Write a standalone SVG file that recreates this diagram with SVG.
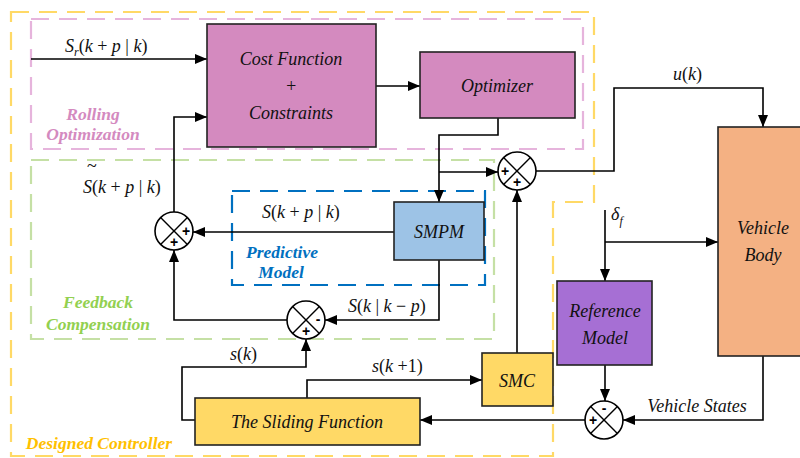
<svg xmlns="http://www.w3.org/2000/svg" width="800" height="458" viewBox="0 0 800 458" font-family="'Times New Roman', 'Liberation Serif', 'DejaVu Serif', serif">
  <defs>
    <marker id="arrow" viewBox="0 0 12 10" refX="12" refY="5" markerWidth="12" markerHeight="10" markerUnits="userSpaceOnUse" orient="auto">
      <path d="M0,0 L12,5 L0,10 Z" fill="#000"/>
    </marker>
    <g id="sumcircle">
      <circle cx="0" cy="0" r="19" fill="#fff" stroke="#000" stroke-width="1.6"/>
      <line x1="-13.4" y1="-13.4" x2="13.4" y2="13.4" stroke="#000" stroke-width="1.4"/>
      <line x1="-13.4" y1="13.4" x2="13.4" y2="-13.4" stroke="#000" stroke-width="1.4"/>
    </g>
  </defs>
  <style>
    .frame { fill: none; stroke-width: 2.2; stroke-dasharray: 18 10; }
    .box { stroke: #222; stroke-width: 1.6; }
    .wire { fill: none; stroke: #000; stroke-width: 1.6; }
    .arr { marker-end: url(#arrow); }
    .lbl { font-style: italic; font-size: 18px; fill: #111; text-anchor: middle; }
    .math { font-size: 18px; fill: #111; }
    .v { font-style: italic; }
    .grp { font-style: italic; font-weight: bold; font-size: 17.5px; text-anchor: middle; }
    .sign { font-weight: bold; font-size: 14px; fill: #000; text-anchor: middle; }
  </style>

  <rect width="800" height="458" fill="#fff"/>

  <!-- dashed frames -->
  <g id="frames">
    <path class="frame" stroke="#FFD966" d="M11,12 H594 V202 H553 V456 H11 Z"/>
    <rect class="frame" stroke="#E6B4DC" x="31" y="19" width="552" height="130"/>
    <rect class="frame" stroke="#C5E0A5" x="31" y="160" width="463" height="179"/>
    <rect class="frame" stroke="#0070C0" x="232" y="191" width="253" height="94" stroke-width="2.6"/>
    <text class="grp" fill="#D48ABF" x="93" y="120">Rolling</text>
    <text class="grp" fill="#D48ABF" x="93" y="140">Optimization</text>
    <text class="grp" fill="#92D050" x="98" y="308">Feedback</text>
    <text class="grp" fill="#92D050" x="98" y="330">Compensation</text>
    <text class="grp" fill="#0070C0" x="282" y="258">Predictive</text>
    <text class="grp" fill="#0070C0" x="281" y="278">Model</text>
    <text class="grp" fill="#FFC000" x="99" y="449">Designed Controller</text>
  </g>

  <!-- connectors -->
  <g id="connectors">
    <path class="wire arr" d="M31,59 H207"/>
    <path class="wire arr" d="M174,212 V117 H207"/>
    <path class="wire arr" d="M376,86 H420"/>
    <path class="wire arr" d="M498,118 V135 H439 V202"/>
    <path class="wire arr" d="M439,172 H498"/>
    <path class="wire arr" d="M536,171 H614 V88 H763 V127"/>
    <path class="wire arr" d="M394,232 H193"/>
    <path class="wire arr" d="M439,260 V320 H325"/>
    <path class="wire arr" d="M287,320 H174 V250"/>
    <path class="wire arr" d="M195,420 H182 V367 H306 V339"/>
    <path class="wire arr" d="M307,398 V380 H482"/>
    <path class="wire arr" d="M517,353 V190"/>
    <path class="wire arr" d="M605,210 V281"/>
    <path class="wire arr" d="M605,242 H718"/>
    <path class="wire arr" d="M605,365 V401"/>
    <path class="wire arr" d="M763,356 V420 H623"/>
    <path class="wire arr" d="M585,420 H420"/>

    <!-- signal labels -->
    <text class="math" x="65" y="52"><tspan class="v">S</tspan><tspan class="v" font-size="12" dy="4">r</tspan><tspan dy="-4">(</tspan><tspan class="v">k</tspan> + <tspan class="v">p</tspan> | <tspan class="v">k</tspan>)</text>
    <text class="math" x="83" y="193"><tspan class="v">S</tspan>(<tspan class="v">k</tspan> + <tspan class="v">p</tspan> | <tspan class="v">k</tspan>)</text>
    <text class="math" x="87" y="172" font-size="9">~</text>
    <text class="math" x="262" y="218"><tspan class="v">S</tspan>(<tspan class="v">k</tspan> + <tspan class="v">p</tspan> | <tspan class="v">k</tspan>)</text>
    <text class="math" x="348" y="312"><tspan class="v">S</tspan>(<tspan class="v">k</tspan> | <tspan class="v">k</tspan> − <tspan class="v">p</tspan>)</text>
    <text class="math" x="230" y="360"><tspan class="v">s</tspan>(<tspan class="v">k</tspan>)</text>
    <text class="math" x="372" y="372"><tspan class="v">s</tspan>(<tspan class="v">k</tspan> +1)</text>
    <text class="math" x="673" y="80"><tspan class="v">u</tspan>(<tspan class="v">k</tspan>)</text>
    <text class="math" x="611" y="220"><tspan class="v">δ</tspan><tspan class="v" font-size="12" dy="5">f</tspan></text>
    <text class="lbl" x="697" y="412">Vehicle States</text>
  </g>

  <!-- nodes -->
  <g id="cost-function">
    <rect class="box" x="207" y="24" width="169" height="123" fill="#D48ABF"/>
    <text class="lbl" x="291" y="65">Cost Function</text>
    <text class="lbl" x="291" y="92" font-style="normal">+</text>
    <text class="lbl" x="291" y="119">Constraints</text>
  </g>
  <g id="optimizer">
    <rect class="box" x="420" y="52" width="155" height="66" fill="#D48ABF"/>
    <text class="lbl" x="497" y="92">Optimizer</text>
  </g>
  <g id="smpm">
    <rect class="box" x="394" y="202" width="90" height="58" fill="#9DC3E6"/>
    <text class="lbl" x="439" y="238">SMPM</text>
  </g>
  <g id="vehicle-body">
    <rect class="box" x="718" y="127" width="90" height="229" fill="#F4B183"/>
    <text class="lbl" x="763" y="234">Vehicle</text>
    <text class="lbl" x="763" y="261">Body</text>
  </g>
  <g id="reference-model">
    <rect class="box" x="557" y="281" width="95" height="84" fill="#A66FD4"/>
    <text class="lbl" x="605" y="317">Reference</text>
    <text class="lbl" x="605" y="344">Model</text>
  </g>
  <g id="sliding-function">
    <rect class="box" x="195" y="398" width="225" height="47" fill="#FFD966"/>
    <text class="lbl" x="307" y="428">The Sliding Function</text>
  </g>
  <g id="smc">
    <rect class="box" x="482" y="353" width="71" height="53" fill="#FFD966"/>
    <text class="lbl" x="517" y="387">SMC</text>
  </g>

  <!-- summing junctions -->
  <g id="sum-control" font-family="'Liberation Sans', Arial, sans-serif">
    <use href="#sumcircle" x="517" y="171"/>
    <text class="sign" x="505" y="176">+</text>
    <text class="sign" x="517" y="187">+</text>
  </g>
  <g id="sum-prediction" font-family="'Liberation Sans', Arial, sans-serif">
    <use href="#sumcircle" x="174" y="231"/>
    <text class="sign" x="186" y="236">+</text>
    <text class="sign" x="174" y="247">+</text>
  </g>
  <g id="sum-error" font-family="'Liberation Sans', Arial, sans-serif">
    <use href="#sumcircle" x="306" y="320"/>
    <text class="sign" x="318" y="324">-</text>
    <text class="sign" x="306" y="336">+</text>
  </g>
  <g id="sum-states" font-family="'Liberation Sans', Arial, sans-serif">
    <use href="#sumcircle" x="604" y="420"/>
    <text class="sign" x="604" y="413">-</text>
    <text class="sign" x="593" y="425">+</text>
  </g>
</svg>
